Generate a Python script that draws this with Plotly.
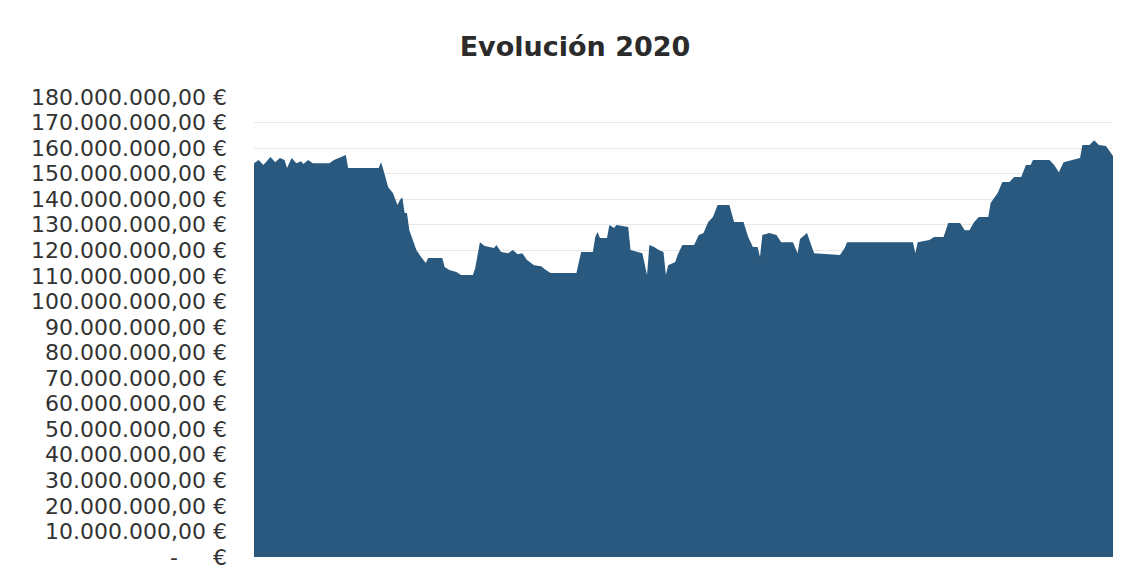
import pandas as pd
import plotly.graph_objects as go

# Day of year (offset from 1 Jan 2020) and portfolio value in millions of euros
day_offsets = [0, 2, 4, 7, 9, 11, 13, 14, 16, 18, 20, 21, 23, 25, 32, 34, 39, 40, 53, 54,
               55, 57, 59, 61, 62, 63, 64, 65, 66, 68, 69, 71, 73, 74, 80, 81, 83, 86, 88, 93,
               94, 96, 98, 102, 103, 105, 108, 110, 112, 114, 116, 119, 122, 124, 126, 137, 139, 144, 145, 146,
               147, 150, 151, 153, 154, 159, 160, 165, 167, 168, 170, 172, 174, 175, 176, 179, 180, 182, 187, 189,
               191, 193, 195, 197, 202, 204, 208, 210, 212, 214, 215, 216, 219, 222, 224, 229, 231, 232, 235, 236,
               238, 249, 251, 252, 280, 281, 282, 287, 289, 293, 295, 300, 302, 304, 306, 308, 312, 313, 316, 318,
               321, 323, 326, 328, 330, 331, 338, 340, 342, 344, 351, 352, 355, 357, 359, 362, 364, 365]
values_millions = [154.1, 155.3, 153.4, 156.5, 154.5, 156.1, 155.3, 152.2, 156.1, 154.1, 154.9, 153.8, 155.3, 154.1, 154.1, 155.3, 157.3, 152.2, 152.2, 154.5,
                   151.4, 144.8, 142.4, 137.7, 139.7, 140.8, 134.6, 134.6, 127.9, 122.8, 120.1, 117.4, 115.0, 117.0, 117.0, 113.5, 112.3, 111.5, 110.3, 110.3,
                   113.1, 123.2, 121.7, 120.9, 122.1, 119.3, 118.9, 120.1, 118.5, 118.9, 116.2, 114.2, 113.8, 112.3, 111.1, 111.1, 119.3, 119.3, 125.2, 127.2,
                   124.8, 124.8, 129.9, 128.7, 129.9, 129.1, 120.1, 118.9, 110.3, 122.1, 121.3, 120.1, 119.3, 110.3, 114.2, 115.4, 118.2, 122.1, 122.1, 126.0,
                   126.8, 131.1, 133.0, 137.7, 137.7, 131.1, 131.1, 125.2, 121.3, 121.3, 117.4, 126.0, 126.8, 126.0, 123.2, 123.2, 118.9, 124.4, 126.8, 124.0,
                   118.9, 118.2, 120.9, 123.2, 123.2, 118.9, 123.2, 124.0, 125.2, 125.2, 130.7, 130.7, 127.9, 127.9, 131.1, 133.0, 133.0, 138.5, 142.4, 146.7,
                   146.7, 148.7, 148.7, 153.4, 153.4, 155.3, 155.3, 153.4, 150.6, 154.5, 156.1, 161.2, 161.2, 163.1, 161.2, 160.8, 158.4, 156.9]

tick_values_millions = list(range(0, 190, 10))
tick_labels = ["-\u00a0\u00a0\u00a0\u00a0\u00a0€"] + [
    "{:,}".format(v * 1_000_000).replace(",", ".") + ",00 €" for v in tick_values_millions[1:]
]
title_text = "Evolución 2020"

dates = pd.to_datetime("2020-01-01") + pd.to_timedelta(day_offsets, unit="D")
values = [v * 1_000_000 for v in values_millions]
tick_values = [v * 1_000_000 for v in tick_values_millions]

# The page body adds an 8px margin, so the figure is sized to fit the window.
FIG_W, FIG_H, OFF = 1118, 562, 8

fig = go.Figure(
    go.Scatter(
        x=dates,
        y=values,
        mode="lines",
        line=dict(width=0, color="#29597F"),
        fill="tozeroy",
        fillcolor="#29597F",
        hoverinfo="skip",
    )
)

fig.update_layout(
    width=FIG_W,
    height=FIG_H,
    margin=dict(l=254 - OFF, r=13, t=97 - OFF, b=13, autoexpand=False),
    paper_bgcolor="white",
    plot_bgcolor="white",
    showlegend=False,
    title=dict(
        text="<b>" + title_text + "</b>",
        x=(575 - OFF) / FIG_W,
        xref="container",
        xanchor="center",
        y=1 - (47 - OFF) / FIG_H,
        yref="container",
        yanchor="middle",
        font=dict(family="DejaVu Sans", size=27, color="#2b2b2b"),
    ),
    font=dict(family="DejaVu Sans", color="#333333"),
)

fig.update_xaxes(
    range=[dates[0], dates[-1]],
    showgrid=False,
    showticklabels=False,
    zeroline=False,
    showline=False,
    ticks="",
    automargin=False,
)

fig.update_yaxes(
    range=[0, 180_000_000],
    tickmode="array",
    tickvals=tick_values,
    ticktext=tick_labels,
    tickfont=dict(family="DejaVu Sans", size=22, color="#333333"),
    showgrid=True,
    gridcolor="#e8e8e8",
    gridwidth=1,
    zeroline=False,
    showline=False,
    ticks="",
    ticklabelstandoff=26,
    automargin=False,
)

fig.write_html("out.html")
